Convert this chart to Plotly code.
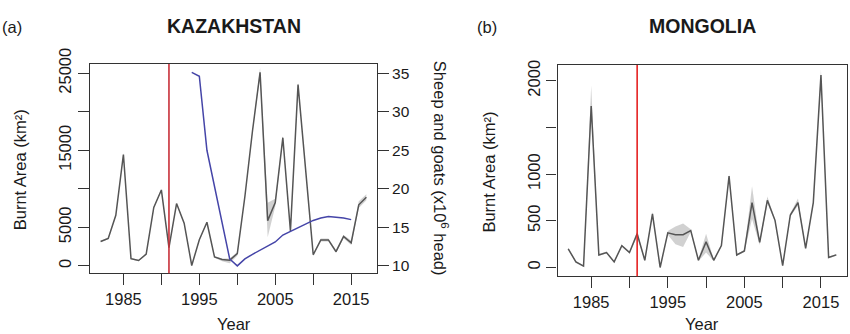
import plotly.graph_objects as go

# ---------------- data ----------------
years = list(range(1982, 2018))
transition_year = 1991

kz_burnt = [3160, 3570, 6570, 14450, 940, 700, 1520, 7590, 9850, 2380,
            8090, 5540, 50, 3400, 5660, 1150, 820, 740, 1600, 9000,
            17500, 25100, 5870, 8210, 16630, 4520, 23520, 12500, 1440, 3370,
            3370, 1850, 3820, 3000, 7920, 8910]
kz_lo = [3060, 3470, 6470, 14250, 840, 600, 1420, 7490, 9750, 2280,
         7990, 5440, 0, 3300, 5560, 1050, 600, 350, 1300, 8900,
         17300, 24600, 3700, 7700, 16400, 4400, 23300, 12400, 1250, 3150,
         3150, 1650, 3600, 2700, 7500, 8500]
kz_hi = [3260, 3670, 6670, 14650, 1040, 800, 1620, 7690, 9950, 2480,
         8190, 5640, 150, 3500, 5760, 1250, 950, 950, 1800, 9100,
         17700, 25700, 8200, 8700, 16850, 4650, 23750, 12600, 1600, 3550,
         3550, 2050, 4000, 3300, 8400, 9300]

sheep_years = list(range(1994, 2016))
kz_sheep = [35.1, 34.6, 25.0, 20.3, 15.5, 10.9, 10.0, 10.9, 11.5, 12.0,
            12.5, 13.1, 14.0, 14.5, 15.0, 15.5, 15.9, 16.2, 16.4, 16.3,
            16.2, 16.0]

mn_burnt = [200, 60, 15, 1730, 134, 160, 60, 234, 160, 361,
            77, 575, 0, 371, 351, 351, 395, 77, 274, 77,
            234, 980, 134, 177, 695, 268, 719, 505, 20, 562,
            695, 204, 695, 2060, 107, 135]
mn_lo = [190, 50, 5, 1650, 124, 150, 50, 224, 150, 330,
         67, 555, 0, 350, 250, 220, 380, 67, 160, 67,
         224, 950, 124, 167, 520, 240, 690, 490, 10, 545,
         660, 190, 680, 2000, 97, 125]
mn_hi = [210, 70, 25, 1950, 144, 170, 70, 244, 170, 390,
         87, 595, 10, 390, 440, 470, 410, 87, 360, 87,
         244, 1000, 144, 187, 870, 290, 760, 520, 30, 580,
         740, 214, 710, 2120, 117, 145]

x_tickvals = [1985, 1990, 1995, 2000, 2005, 2010, 2015]
x_ticktext = ["1985", "", "1995", "", "2005", "", "2015"]
kz_tickvals = [0, 5000, 10000, 15000, 20000, 25000]
kz_ticktext = ["0", "5000", "", "15000", "", "25000"]
sheep_tickvals = [10, 15, 20, 25, 30, 35]
mn_tickvals = [0, 500, 1000, 1500, 2000]
mn_ticktext = ["0", "500", "1000", "", "2000"]

# ---------------- style ----------------
W, H = 850, 334
FONT = "Liberation Sans, Arial, sans-serif"
TXT = "#1a1a1a"
AX = "#333333"
LINE = "#555555"
BAND = "rgba(185,185,185,0.65)"
BLUE = "#4545a8"

def px(x):
    return x / W

def py(y):
    return 1 - y / H

fig = go.Figure()

# Kazakhstan
fig.add_trace(go.Scatter(x=years + years[::-1], y=kz_hi + kz_lo[::-1],
                         fill="toself", fillcolor=BAND, line=dict(width=0),
                         mode="lines", hoverinfo="skip", showlegend=False,
                         xaxis="x", yaxis="y"))
fig.add_trace(go.Scatter(x=years, y=kz_burnt, mode="lines",
                         line=dict(color=LINE, width=1.5), showlegend=False,
                         xaxis="x", yaxis="y"))
fig.add_trace(go.Scatter(x=sheep_years, y=kz_sheep, mode="lines",
                         line=dict(color=BLUE, width=1.5), showlegend=False,
                         xaxis="x", yaxis="y2"))

# Mongolia
fig.add_trace(go.Scatter(x=years + years[::-1], y=mn_hi + mn_lo[::-1],
                         fill="toself", fillcolor=BAND, line=dict(width=0),
                         mode="lines", hoverinfo="skip", showlegend=False,
                         xaxis="x2", yaxis="y3"))
fig.add_trace(go.Scatter(x=years, y=mn_burnt, mode="lines",
                         line=dict(color=LINE, width=1.5), showlegend=False,
                         xaxis="x2", yaxis="y3"))

axis_common = dict(showgrid=False, zeroline=False, showline=True,
                   linecolor=AX, linewidth=1.3, ticks="outside",
                   tickcolor=AX, tickwidth=1.3,
                   tickfont=dict(family=FONT, size=16.5, color=TXT))

fig.update_layout(
    width=W, height=H,
    margin=dict(l=0, r=0, t=0, b=0),
    paper_bgcolor="white", plot_bgcolor="white",
    font=dict(family=FONT, color=TXT),
    xaxis=dict(domain=[px(90), px(377)], range=[1980.6, 2018.4], anchor="y",
               tickvals=x_tickvals, ticktext=x_ticktext, ticklen=11,
               mirror=True, **axis_common),
    yaxis=dict(domain=[py(271), py(50.5)], range=[-950, 26200], anchor="x",
               tickvals=kz_tickvals, ticktext=kz_ticktext, tickangle=-90,
               ticklen=11, mirror=True, **axis_common),
    yaxis2=dict(overlaying="y", side="right", anchor="x", range=[9.05, 36.2],
                tickvals=sheep_tickvals, ticklen=11,
                **{**axis_common, "showline": False,
                   "tickfont": dict(family=FONT, size=15.5, color=TXT)}),
    xaxis2=dict(domain=[px(557.5), px(847)], range=[1980.6, 2018.4], anchor="y3",
                tickvals=x_tickvals, ticktext=x_ticktext, ticklen=11,
                mirror=True, **axis_common),
    yaxis3=dict(domain=[py(274.3), py(51.7)], range=[-95, 2168], anchor="x2",
                tickvals=mn_tickvals, ticktext=mn_ticktext, tickangle=-90,
                ticklen=10, mirror=True, **axis_common),
)

# transition lines
fig.add_shape(type="line", xref="x", yref="y domain", x0=transition_year,
              x1=transition_year, y0=0, y1=1, line=dict(color="#c8303a", width=1.6))
fig.add_shape(type="line", xref="x2", yref="y3 domain", x0=transition_year,
              x1=transition_year, y0=0, y1=1, line=dict(color="#e52222", width=1.6))

def note(text, x, y, size=16.5, angle=0, bold=False, xanchor="center"):
    fig.add_annotation(text=f"<b>{text}</b>" if bold else text,
                       x=px(x), y=py(y), xref="paper", yref="paper",
                       showarrow=False, textangle=angle, xanchor=xanchor,
                       yanchor="middle",
                       font=dict(family=FONT, size=size, color=TXT))

note("(a)", 0, 12, size=16.5, xanchor="left")
note("KAZAKHSTAN", 234, 11, size=19.5, bold=True)
note("(b)", 475, 12, size=16.5, xanchor="left")
note("MONGOLIA", 702, 11, size=19.5, bold=True)
note("Year", 234, 325)
note("Year", 702, 325)
note("Burnt Area (km²)", 19.5, 162, angle=-90)
note("Burnt Area (km²)", 489, 165, angle=-90)
note("Sheep and goats (x10<sup>6</sup> head)", 441, 160, angle=90)

fig.write_html("out.html")
